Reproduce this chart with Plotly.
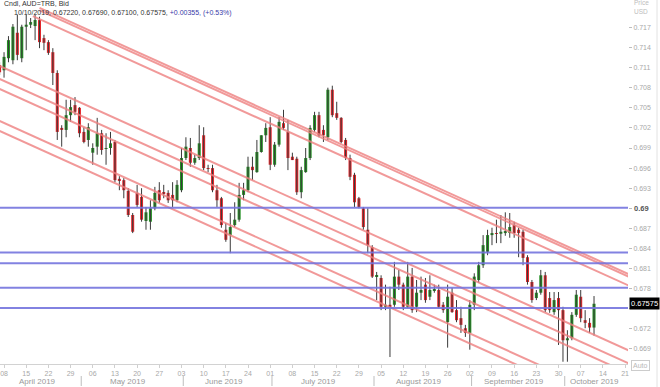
import pandas as pd
import plotly.graph_objects as go

# ---------------- data ----------------
dates = pd.bdate_range("2019-04-05", "2019-10-10")

opens = [0.7114, 0.7106, 0.7124, 0.7121, 0.7162, 0.7124, 0.7171, 0.7174, 0.7172, 0.7181,
         0.7154, 0.7148, 0.7133, 0.7102, 0.7020, 0.7017, 0.7039, 0.7054, 0.7050, 0.7014,
         0.7002, 0.6983, 0.6992, 0.7012, 0.6989, 0.6990, 0.6999, 0.6944, 0.6942, 0.6926,
         0.6890, 0.6923, 0.6917, 0.6881, 0.6880, 0.6900, 0.6927, 0.6923, 0.6923, 0.6920,
         0.6912, 0.6927, 0.6975, 0.6990, 0.6968, 0.6975, 0.7009, 0.6960, 0.6960, 0.6927,
         0.6915, 0.6868, 0.6860, 0.6875, 0.6883, 0.6920, 0.6927, 0.6962, 0.6954, 0.6984,
         0.7009, 0.7021, 0.6965, 0.6995, 0.7027, 0.7014, 0.6977, 0.6974, 0.6924, 0.6954,
         0.6975, 0.7017, 0.7039, 0.7017, 0.7006, 0.7077, 0.7042, 0.7035, 0.7002, 0.6975,
         0.6950, 0.6915, 0.6900, 0.6868, 0.6842, 0.6798, 0.6796, 0.6753, 0.6756, 0.6756,
         0.6798, 0.6786, 0.6753, 0.6798, 0.6753, 0.6774, 0.6786, 0.6768, 0.6778, 0.6778,
         0.6756, 0.6730, 0.6774, 0.6748, 0.6736, 0.6721, 0.6714, 0.6756, 0.6793, 0.6815,
         0.6835, 0.6860, 0.6863, 0.6862, 0.6863, 0.6863, 0.6875, 0.6868, 0.6865, 0.6827,
         0.6790, 0.6766, 0.6774, 0.6800, 0.6766, 0.6745, 0.6766, 0.6748, 0.6703, 0.6706,
         0.6741, 0.6768, 0.6733, 0.6729, 0.6722]

highs = [0.7118, 0.7133, 0.7157, 0.7175, 0.7189, 0.7174, 0.7189, 0.7184, 0.7189, 0.7186,
         0.7159, 0.7151, 0.7139, 0.7106, 0.7024, 0.7062, 0.7062, 0.7066, 0.7051, 0.7021,
         0.7027, 0.6997, 0.7035, 0.7017, 0.7012, 0.7014, 0.7002, 0.6948, 0.6945, 0.6930,
         0.6893, 0.6935, 0.6930, 0.6902, 0.6912, 0.6932, 0.6939, 0.6935, 0.6927, 0.6939,
         0.6942, 0.6990, 0.7006, 0.7005, 0.6980, 0.7024, 0.7021, 0.6965, 0.6965, 0.6935,
         0.6917, 0.6878, 0.6893, 0.6909, 0.6938, 0.6938, 0.6977, 0.6977, 0.7002, 0.7009,
         0.7027, 0.7036, 0.6999, 0.7036, 0.7047, 0.7032, 0.6983, 0.6977, 0.6962, 0.6990,
         0.7024, 0.7044, 0.7044, 0.7024, 0.7080, 0.7083, 0.7059, 0.7036, 0.7005, 0.6980,
         0.6953, 0.6917, 0.6902, 0.6900, 0.6845, 0.6805, 0.6800, 0.6786, 0.6783, 0.6820,
         0.6808, 0.6789, 0.6820, 0.6811, 0.6793, 0.6798, 0.6796, 0.6800, 0.6786, 0.6786,
         0.6760, 0.6786, 0.6781, 0.6763, 0.6753, 0.6726, 0.6763, 0.6803, 0.6820, 0.6860,
         0.6868, 0.6871, 0.6883, 0.6890, 0.6894, 0.6893, 0.6880, 0.6871, 0.6868, 0.6830,
         0.6793, 0.6778, 0.6808, 0.6805, 0.6775, 0.6775, 0.6775, 0.6753, 0.6718, 0.6745,
         0.6778, 0.6778, 0.6748, 0.6736, 0.6769]

lows = [0.7099, 0.7095, 0.7118, 0.7115, 0.7121, 0.7118, 0.7136, 0.7169, 0.7151, 0.7139,
        0.7136, 0.7129, 0.7084, 0.7002, 0.6992, 0.7006, 0.7029, 0.7039, 0.7006, 0.6997,
        0.6992, 0.6965, 0.6980, 0.6980, 0.6965, 0.6980, 0.6939, 0.6927, 0.6915, 0.6887,
        0.6863, 0.6902, 0.6880, 0.6868, 0.6868, 0.6897, 0.6908, 0.6915, 0.6908, 0.6902,
        0.6909, 0.6924, 0.6972, 0.6962, 0.6965, 0.6972, 0.6957, 0.6954, 0.6924, 0.6902,
        0.6871, 0.6850, 0.6833, 0.6872, 0.6880, 0.6912, 0.6924, 0.6942, 0.6953, 0.6983,
        0.6999, 0.6957, 0.6962, 0.6992, 0.7017, 0.6957, 0.6972, 0.6920, 0.6915, 0.6953,
        0.6972, 0.7014, 0.7006, 0.6999, 0.7002, 0.7036, 0.7032, 0.6997, 0.6972, 0.6942,
        0.6902, 0.6900, 0.6868, 0.6833, 0.6796, 0.6763, 0.6748, 0.6748, 0.6678, 0.6753,
        0.6778, 0.6748, 0.6751, 0.6744, 0.6745, 0.6763, 0.6759, 0.6763, 0.6774, 0.6751,
        0.6744, 0.6692, 0.6744, 0.6730, 0.6714, 0.6708, 0.6689, 0.6748, 0.6789, 0.6811,
        0.6830, 0.6845, 0.6848, 0.6848, 0.6859, 0.6856, 0.6856, 0.6827, 0.6815, 0.6786,
        0.6759, 0.6763, 0.6771, 0.6745, 0.6744, 0.6741, 0.6696, 0.6671, 0.6671, 0.6703,
        0.6738, 0.6730, 0.6721, 0.6714, 0.6710]

closes = [0.7103, 0.7126, 0.7151, 0.7171, 0.7129, 0.7171, 0.7174, 0.7178, 0.7181, 0.7148,
          0.7147, 0.7132, 0.7102, 0.7014, 0.7017, 0.7039, 0.7051, 0.7044, 0.7012, 0.6999,
          0.7021, 0.6990, 0.7012, 0.6987, 0.6990, 0.6997, 0.6942, 0.6942, 0.6927, 0.6890,
          0.6865, 0.6905, 0.6883, 0.6894, 0.6900, 0.6923, 0.6912, 0.6922, 0.6912, 0.6912,
          0.6935, 0.6975, 0.6992, 0.6968, 0.6975, 0.6997, 0.6960, 0.6959, 0.6927, 0.6912,
          0.6875, 0.6853, 0.6872, 0.6883, 0.6920, 0.6927, 0.6962, 0.6957, 0.6984, 0.7009,
          0.7020, 0.6965, 0.6995, 0.7029, 0.7020, 0.6975, 0.6972, 0.6924, 0.6957, 0.6975,
          0.7020, 0.7039, 0.7009, 0.7009, 0.7077, 0.7039, 0.7035, 0.6999, 0.6975, 0.6947,
          0.6909, 0.6902, 0.6872, 0.6845, 0.6798, 0.6800, 0.6753, 0.6756, 0.6754, 0.6798,
          0.6786, 0.6753, 0.6798, 0.6748, 0.6774, 0.6778, 0.6763, 0.6778, 0.6779, 0.6753,
          0.6748, 0.6768, 0.6745, 0.6733, 0.6726, 0.6714, 0.6756, 0.6798, 0.6815, 0.6845,
          0.6860, 0.6863, 0.6862, 0.6865, 0.6866, 0.6872, 0.6863, 0.6863, 0.6826, 0.6790,
          0.6763, 0.6774, 0.6800, 0.6748, 0.6748, 0.6763, 0.6748, 0.6703, 0.6706, 0.6741,
          0.6771, 0.6736, 0.6729, 0.6722, 0.67575]

# horizontal support/resistance levels (blue)
blue_levels = [0.6901, 0.6834, 0.6818, 0.67815, 0.6751]

# descending trend lines (red): start index (trading day), start price
trend_start_idx = [9, 9, 7.5, 0, 0, 0, 0, 0]
trend_start_price = [0.71992, 0.71955, 0.71867, 0.71124, 0.70930, 0.70781, 0.70303, 0.70154]
trend_slope_per_day = -0.0002993

header_line1 = "Cndl, AUD=TRB, Bid"
header_line2_black = "10/10/2019, 0.67220, 0.67690, 0.67100, 0.67575, "
header_line2_blue = "+0.00355, (+0.53%)"
last_price_label = "0.67575"

y_tick_vals = [0.669, 0.672, 0.675, 0.678, 0.681, 0.684, 0.687, 0.690,
               0.693, 0.696, 0.699, 0.702, 0.705, 0.708, 0.711, 0.714, 0.717]

# ---------------- derived ----------------
n = len(closes)
idx = list(range(n))
axis_days = pd.bdate_range("2019-04-05", "2019-10-25")
x_end = 141.66
mondays = [(i, d) for i, d in enumerate(axis_days) if d.weekday() == 0 and i <= x_end]
tick_vals = [i for i, d in mondays]
tick_text = [d.strftime("%d") for i, d in mondays]

GREEN = "#239023"
RED = "#e3262b"
colors = [GREEN if c >= o else RED for o, c in zip(opens, closes)]
base = [min(o, c) for o, c in zip(opens, closes)]
height = [max(abs(c - o), 0.0001) for o, c in zip(opens, closes)]

wx, wy = [], []
for i in idx:
    wx += [i, i, None]
    wy += [lows[i], highs[i], None]

fig = go.Figure()
fig.add_trace(go.Scatter(x=wx, y=wy, mode="lines", line=dict(color="#3a3a3a", width=1),
                         hoverinfo="skip"))
fig.add_trace(go.Bar(x=idx, y=height, base=base, marker=dict(color=colors, line=dict(width=0)),
                     width=0.68, hoverinfo="skip"))

for s_i, s_p in zip(trend_start_idx, trend_start_price):
    e_p = s_p + trend_slope_per_day * (x_end + 1 - s_i)
    fig.add_trace(go.Scatter(x=[s_i, x_end + 1], y=[s_p, e_p], mode="lines",
                             line=dict(color="rgba(238,128,128,0.8)", width=2),
                             hoverinfo="skip"))

for lv in blue_levels:
    fig.add_trace(go.Scatter(x=[-2, x_end + 2], y=[lv, lv], mode="lines",
                             line=dict(color="rgba(116,116,222,0.9)", width=2),
                             hoverinfo="skip"))

y_lo, y_hi = 0.66676, 0.72109
PLOT_H = 364.0
PLOT_W = 628.0

last_close = closes[-1]
y_tick_text = ["" if (abs(v - 0.69) < 1e-9 or abs(v - last_close) < 0.0012) else f"{v:.3f}"
               for v in y_tick_vals]

fig.update_layout(
    width=660, height=387,
    margin=dict(l=0, r=32, t=0, b=23),
    plot_bgcolor="white", paper_bgcolor="white",
    showlegend=False, barmode="overlay",
    font=dict(family="Liberation Sans, Arial, sans-serif"),
    xaxis=dict(range=[0.09, x_end], tickmode="array", tickvals=tick_vals, ticktext=tick_text,
               showgrid=False, zeroline=False, showline=True, linecolor="#d2d2d2", linewidth=1,
               ticks="outside", ticklen=3, tickcolor="#cfcfcf",
               tickfont=dict(size=7, color="#a8a8a8")),
    yaxis=dict(range=[y_lo, y_hi], side="right", tickmode="array", tickvals=y_tick_vals,
               ticktext=y_tick_text, showgrid=False, zeroline=False, showline=False,
               ticks="outside", ticklen=3, tickcolor="#bdbdbd",
               tickfont=dict(size=7, color="#a8a8a8")),
)

ann = []
# header
ann.append(dict(xref="paper", yref="paper", x=2 / PLOT_W, y=1 - 3.5 / PLOT_H, xanchor="left",
                yanchor="middle", showarrow=False, text=header_line1,
                font=dict(size=7, color="#333333")))
ann.append(dict(xref="paper", yref="paper", x=12 / PLOT_W, y=1 - 13.5 / PLOT_H, xanchor="left",
                yanchor="middle", showarrow=False,
                text=header_line2_black + f"<span style='color:#3a3aa8'>{header_line2_blue}</span>",
                font=dict(size=7, color="#333333")))
# right axis extras
ann.append(dict(xref="paper", yref="y", x=1, y=0.69, xanchor="left", yanchor="middle",
                xshift=4, showarrow=False, text="<b>0.69</b>", font=dict(size=7.5, color="#555555")))
ann.append(dict(xref="paper", yref="y", x=1, y=last_close, xanchor="left", yanchor="middle",
                xshift=1, showarrow=False, text=last_price_label, bgcolor="#000000",
                borderpad=1, font=dict(size=7.5, color="#ffffff")))
ann.append(dict(xref="paper", yref="paper", x=640 / PLOT_W, y=1 - 365 / PLOT_H, xanchor="center",
                yanchor="middle", showarrow=False, text="Auto", bordercolor="#cccccc",
                borderwidth=1, borderpad=1, font=dict(size=7, color="#b8b8b8")))
ann.append(dict(xref="paper", yref="paper", x=641 / PLOT_W, y=1 - 2.5 / PLOT_H, xanchor="center",
                yanchor="middle", showarrow=False, text="Price", font=dict(size=6.5, color="#bdbdbd")))
ann.append(dict(xref="paper", yref="paper", x=641 / PLOT_W, y=1 - 11 / PLOT_H, xanchor="center",
                yanchor="middle", showarrow=False, text="USD", font=dict(size=6.5, color="#bdbdbd")))

# month labels and separators
shapes = []
months = sorted(set((d.year, d.month) for d in axis_days))
for (yy, mm) in months:
    members = [i for i, d in enumerate(axis_days) if d.year == yy and d.month == mm and i <= x_end]
    if not members:
        continue
    first, last = members[0], members[-1]
    lo = max(first, 0)
    hi = min(last, x_end)
    label = pd.Timestamp(year=yy, month=mm, day=1).strftime("%B %Y")
    ann.append(dict(xref="x", yref="paper", x=(lo + hi) / 2, y=-(381 - PLOT_H) / PLOT_H,
                    xanchor="center", yanchor="middle", showarrow=False, text=label,
                    font=dict(size=8, color="#9a9a9a")))
    if first > 0:
        shapes.append(dict(type="line", xref="x", yref="paper", x0=first + 0.4, x1=first + 0.4,
                           y0=-(376 - PLOT_H) / PLOT_H, y1=-(386 - PLOT_H) / PLOT_H,
                           line=dict(color="#bdbdbd", width=1)))

shapes.append(dict(type="line", xref="paper", yref="paper", x0=657 / PLOT_W, x1=657 / PLOT_W,
                   y0=-(387 - PLOT_H) / PLOT_H, y1=1, line=dict(color="#e2e2e2", width=1)))

fig.update_layout(annotations=ann, shapes=shapes)
fig.write_html("out.html")
